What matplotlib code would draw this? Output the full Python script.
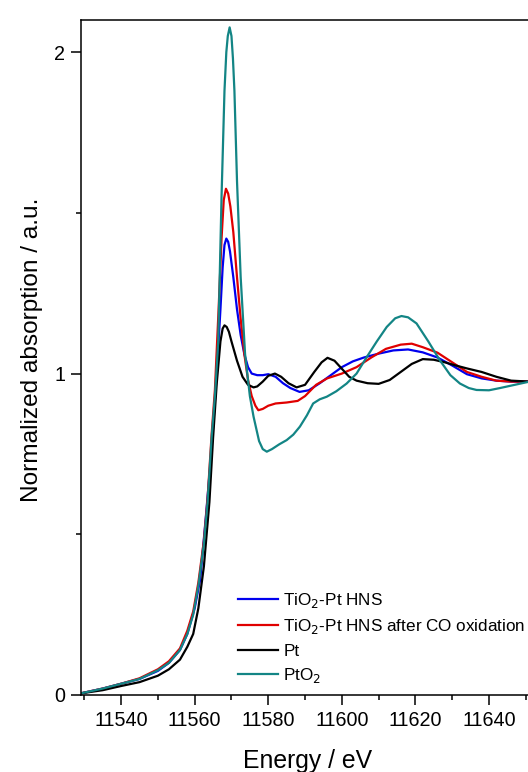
import matplotlib
matplotlib.use("Agg")
import matplotlib.pyplot as plt
from matplotlib.ticker import MultipleLocator

plt.rcParams['font.family'] = ['Liberation Sans', 'DejaVu Sans']

# TiO2-Pt HNS
e_hns = [11529, 11535, 11540, 11545, 11550, 11553, 11556, 11558, 11560, 11561.5,
         11563, 11564.5, 11566, 11567, 11567.6, 11568.1, 11568.6, 11569.1, 11569.6,
         11570.5, 11571.5, 11572.5, 11573.5, 11574.5, 11575.5, 11577, 11578.5,
         11580, 11582, 11584, 11586, 11588.5, 11591, 11594, 11597, 11600, 11603,
         11606, 11610, 11614, 11618, 11622, 11626, 11630, 11634, 11638, 11642,
         11646, 11651]
mu_hns = [0.005, 0.02, 0.035, 0.05, 0.075, 0.1, 0.14, 0.19, 0.27, 0.36,
          0.55, 0.75, 1.0, 1.2, 1.33, 1.4, 1.42, 1.41, 1.38,
          1.3, 1.2, 1.12, 1.06, 1.02, 1.0, 0.995, 0.995,
          0.998, 0.99, 0.97, 0.955, 0.943, 0.948, 0.97, 0.995, 1.02, 1.038,
          1.05, 1.062, 1.072, 1.075, 1.066, 1.05, 1.025, 0.998, 0.985, 0.978,
          0.975, 0.975]

# TiO2-Pt HNS after CO oxidation
e_co = [11529, 11535, 11540, 11545, 11550, 11553, 11556, 11558, 11559.6, 11561,
        11562.5, 11563.5, 11564.6, 11565.5, 11566.5, 11567.3, 11567.9, 11568.5,
        11569.1, 11569.7, 11570.5, 11571.5, 11572.5, 11573.5, 11574.5, 11575.5,
        11576.5, 11577.3, 11578.5, 11580, 11582, 11585, 11588, 11590, 11593,
        11596, 11600, 11604, 11608, 11612, 11616, 11619, 11622, 11626, 11630,
        11634, 11638, 11642, 11646, 11651]
mu_co = [0.005, 0.02, 0.035, 0.052, 0.08, 0.105, 0.145, 0.2, 0.26, 0.35,
         0.48, 0.61, 0.81, 0.95, 1.2, 1.42, 1.54, 1.575,
         1.56, 1.52, 1.44, 1.3, 1.17, 1.06, 0.98, 0.93,
         0.9, 0.886, 0.89, 0.9, 0.907, 0.91, 0.915, 0.93, 0.965,
         0.985, 1.0, 1.02, 1.05, 1.077, 1.09, 1.093, 1.082, 1.065, 1.035,
         1.005, 0.99, 0.978, 0.975, 0.975]

# Pt foil
e_pt = [11529, 11535, 11540, 11545, 11550, 11553, 11556, 11558, 11559.6, 11561,
        11562.5, 11564, 11565, 11566, 11567, 11567.6, 11568.1, 11568.7, 11569.3,
        11570, 11571.5, 11573, 11574.5, 11576, 11577, 11578.5, 11580, 11581.8,
        11583.5, 11585.5, 11587.7, 11590, 11592.5, 11594.5, 11596.1, 11598,
        11600, 11602, 11604, 11607, 11610, 11613, 11616, 11619, 11622, 11625,
        11628, 11631, 11634, 11638, 11642, 11646, 11651]
mu_pt = [0.005, 0.015, 0.028, 0.04, 0.06, 0.08, 0.11, 0.15, 0.19, 0.27,
         0.4, 0.6, 0.8, 0.97, 1.1, 1.14, 1.15, 1.145, 1.13,
         1.1, 1.04, 0.99, 0.965, 0.957, 0.96, 0.975, 0.993, 1.0,
         0.99, 0.97, 0.957, 0.965, 1.005, 1.035, 1.049, 1.04,
         1.015, 0.99, 0.978, 0.97, 0.968, 0.98, 1.005, 1.03, 1.045, 1.043,
         1.035, 1.025, 1.016, 1.005, 0.99, 0.978, 0.975]

# PtO2
e_pto2 = [11529, 11535, 11540, 11545, 11550, 11553, 11556, 11558, 11559.6, 11561,
          11562.5, 11563.5, 11564.6, 11565.5, 11566.4, 11567.3, 11568.1, 11568.6,
          11569, 11569.5, 11570, 11570.4, 11570.8, 11571.5, 11572.5, 11573.7,
          11575, 11576, 11577.5, 11578.5, 11579.6, 11581, 11583, 11585, 11586.8,
          11588.6, 11590.5, 11592.2, 11594, 11595.9, 11598.5, 11601.3, 11604,
          11606.8, 11609.5, 11612.2, 11614.5, 11616.2, 11618, 11620.3, 11623.5,
          11626.6, 11629.5, 11632.1, 11634.5, 11636.6, 11640, 11643, 11647, 11651]
mu_pto2 = [0.005, 0.02, 0.035, 0.05, 0.077, 0.1, 0.14, 0.19, 0.25, 0.34,
           0.47, 0.6, 0.8, 0.93, 1.1, 1.55, 1.88, 2.0,
           2.05, 2.077, 2.05, 1.98, 1.88, 1.6, 1.3, 1.06,
           0.93, 0.866, 0.79, 0.765, 0.757, 0.765, 0.78, 0.793, 0.81,
           0.835, 0.87, 0.907, 0.92, 0.928, 0.945, 0.969, 1.0,
           1.052, 1.1, 1.145, 1.172, 1.179, 1.175, 1.156, 1.1,
           1.042, 0.995, 0.969, 0.955, 0.949, 0.948, 0.955, 0.965, 0.975]

fig = plt.figure(figsize=(5.28, 7.72), dpi=100)
# right spine falls just outside the canvas, as in the cropped original
ax = fig.add_axes([81/528, 77/772, 454/528, 675/772])

lw = 1.6
ax.plot(e_hns, mu_hns, color='#0000ee', lw=lw, label='TiO$_2$-Pt HNS')
ax.plot(e_co, mu_co, color='#e00000', lw=lw, label='TiO$_2$-Pt HNS after CO oxidation')
ax.plot(e_pt, mu_pt, color='black', lw=lw, label='Pt')
ax.plot(e_pto2, mu_pto2, color='#138585', lw=lw, label='PtO$_2$')

ax.set_xlim(11529.1, 11652.5)
ax.set_ylim(0, 2.1)
ax.xaxis.set_major_locator(MultipleLocator(20))
ax.xaxis.set_minor_locator(MultipleLocator(10))
ax.yaxis.set_major_locator(MultipleLocator(1))
ax.yaxis.set_minor_locator(MultipleLocator(0.5))
ax.tick_params(which='major', direction='out', length=7, width=1.1,
               labelsize=14.2, pad=4.5)
ax.tick_params(which='minor', direction='out', length=3.6, width=1.1)
ax.spines['right'].set_visible(False)
for s in ('left', 'bottom', 'top'):
    ax.spines[s].set_linewidth(1.1)

ax.set_xlabel('Energy / eV', fontsize=17.8, labelpad=14)
ax.set_ylabel('Normalized absorption / a.u.', fontsize=17.6, labelpad=8)
ax.yaxis.label.set_y(0.512)

ax.legend(loc='upper left', bbox_to_anchor=(238/528, 1 - 591/772),
          bbox_transform=fig.transFigure, frameon=False, fontsize=12.3,
          handlelength=2.35, handletextpad=0.3, labelspacing=0.43,
          borderpad=0, borderaxespad=0)

fig.savefig('out.png', dpi=100)
